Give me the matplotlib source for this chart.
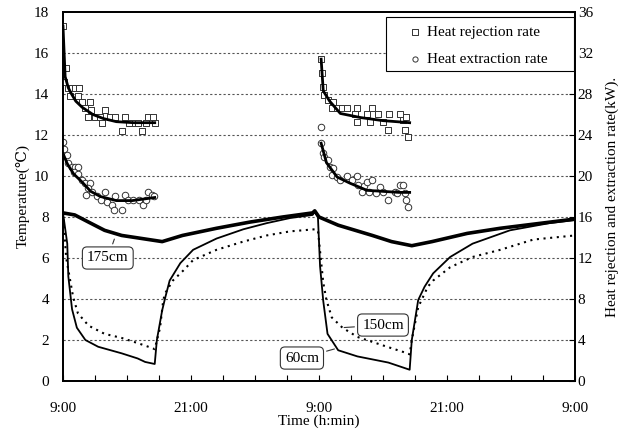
import matplotlib
matplotlib.use("Agg")
import matplotlib.pyplot as plt
from matplotlib.patches import Rectangle
import numpy as np

plt.rcParams['font.family'] = ['Liberation Serif', 'DejaVu Serif']
plt.rcParams['font.size'] = 11

# ---------------- data ----------------
# time in hours since 9:00 of day 1
x_ticks = [0, 12, 24, 36, 48]
x_ticklabels = ["9:00", "21:00", "9:00", "21:00", "9:00"]

# ground temperature (left axis, degC)
t_60 = [0, 0.4, 0.5, 0.85, 1.3, 2.1, 3.3, 5.5, 7.0, 7.7, 8.6, 8.8, 9.3, 9.6, 10.0, 11.0, 12.2,
        14.4, 16.9, 19.1, 21.3, 23.4, 23.6, 23.9, 24.1, 24.4, 24.8, 25.8, 27.6, 30.5, 32.5,
        32.7, 33.3, 33.9, 34.7, 36.3, 38.4, 41.9, 45.6, 48.0]
T_60 = [8.2, 6.7, 5.1, 3.5, 2.6, 2.0, 1.67, 1.35, 1.1, 0.93, 0.83, 2.0, 3.45, 4.1, 4.9, 5.75, 6.4,
        6.95, 7.4, 7.7, 7.95, 8.1, 8.25, 8.0, 5.6, 3.9, 2.3, 1.5, 1.2, 0.9, 0.55,
        2.0, 3.95, 4.6, 5.25, 6.05, 6.7, 7.35, 7.7, 7.85]

t_150 = [0, 0.3, 0.95, 1.4, 2.4, 3.9, 5.5, 7.0, 8.4, 8.6, 9.1, 9.4, 9.6, 10.3, 11.3, 12.2, 14.4,
         16.9, 19.1, 21.3, 23.6, 23.9, 24.4, 24.7, 25.2, 26.2, 27.6, 30.5, 32.3, 32.5, 32.7,
         33.3, 34.2, 34.7, 36.3, 38.4, 41.0, 44.1, 48.0]
T_150 = [8.2, 6.0, 4.1, 3.3, 2.7, 2.3, 2.1, 1.85, 1.6, 1.55, 2.6, 3.95, 4.3, 4.9, 5.4, 5.9, 6.4,
         6.8, 7.1, 7.3, 7.4, 7.35, 4.8, 3.95, 3.1, 2.6, 2.15, 1.65, 1.35, 1.3, 2.0,
         3.6, 4.6, 4.9, 5.55, 6.05, 6.4, 6.9, 7.1]

t_175 = [0, 1.1, 2.4, 3.9, 5.5, 7.4, 9.3, 11.2, 14.4, 17.5, 20.6, 23.4, 23.6, 24.0, 25.8,
         29.0, 30.8, 32.7, 34.6, 37.9, 41.0, 44.1, 48.0]
T_175 = [8.2, 8.1, 7.75, 7.35, 7.1, 6.95, 6.8, 7.1, 7.45, 7.75, 8.0, 8.2, 8.3, 8.0, 7.6,
         7.1, 6.8, 6.6, 6.8, 7.2, 7.45, 7.65, 7.9]

# heat rejection rate (right axis, kW) - measured points
rej_t = [0, 0.3, 0.1, 0.5, 0.8, 1.1, 1.5, 0.7, 1.4, 1.8, 2.5, 2.1, 2.6, 2.3, 3.0, 3.5, 3.9, 4.4,
         4.9, 3.7, 5.5, 5.8, 6.6, 7.4, 8.0, 8.4, 8.6, 6.2, 7.0, 7.8,
         24.2, 24.3, 24.4, 24.5, 24.8, 25.3, 25.2, 25.7, 26.2, 26.6, 27.6, 29.0, 27.4, 28.5,
         29.5, 30.6, 31.6, 27.6, 30.5, 32.1, 32.3, 31.9, 28.8, 30.0, 32.2]
rej_q = [34.6, 30.5, 29.2, 28.6, 28.6, 28.6, 28.6, 27.8, 27.8, 27.2, 27.2, 26.6, 26.4, 25.8,
         25.8, 25.8, 26.4, 25.8, 25.8, 25.2, 24.4, 25.8, 25.2, 24.4, 25.8, 25.8, 25.2, 25.2,
         25.2, 25.2,
         31.4, 30.0, 28.7, 27.9, 27.4, 27.2, 26.6, 26.6, 26.6, 26.6, 26.6, 26.6, 26.0, 26.0,
         26.0, 26.0, 26.0, 25.3, 24.5, 24.5, 23.8, 25.5, 25.3, 25.3, 25.8]

# heat extraction rate (right axis, kW) - measured points
ext_t = [0, 0.05, 0.4, 0.5, 0.8, 1.1, 1.4, 1.0, 1.4, 1.8, 2.1, 2.5, 2.3, 2.7, 2.2, 3.2, 3.9,
         3.6, 4.1, 4.6, 4.9, 4.8, 5.5, 5.8, 6.1, 6.6, 7.1, 7.5, 8.0, 8.3, 8.5, 7.8,
         24.2, 24.2, 24.4, 24.5, 24.8, 25.0, 25.3, 25.2, 25.7, 26.0, 26.6, 27.1, 27.6, 27.7,
         28.2, 28.5, 29.0, 29.7, 28.0, 28.7, 29.3, 30.0, 30.5, 31.1, 31.6, 31.9, 32.1, 32.2,
         32.3, 31.3]
ext_q = [23.3, 22.6, 22.0, 21.3, 20.9, 20.9, 20.9, 20.4, 20.2, 19.6, 19.3, 19.3, 18.8, 18.4,
         18.1, 18.0, 18.4, 17.7, 17.5, 17.2, 18.0, 16.7, 16.7, 18.1, 17.7, 17.7, 17.7, 17.2,
         18.4, 18.1, 18.0, 17.7,
         24.8, 23.2, 22.2, 21.9, 21.6, 20.9, 20.8, 20.1, 19.9, 19.6, 20.0, 19.6, 20.0, 19.1,
         19.0, 19.4, 19.6, 18.9, 18.4, 18.4, 18.3, 18.4, 17.7, 18.4, 19.1, 19.1, 18.3, 17.7,
         17.0, 18.3]

# fitted trend lines (kW)
rej_fit1_t = [0, 0.2, 0.5, 0.8, 1.2, 1.8, 2.8, 3.8, 5.0, 6.6, 8.6]
rej_fit1_q = [34.6, 29.7, 28.6, 28.0, 27.3, 26.7, 26.0, 25.6, 25.3, 25.2, 25.2]
ext_fit1_t = [0, 0.4, 1.0, 1.8, 2.6, 3.5, 5.0, 6.5, 8.6]
ext_fit1_q = [22.2, 21.2, 20.2, 19.4, 18.5, 18.0, 17.6, 17.6, 17.9]
rej_fit2_t = [24.2, 24.4, 25.0, 26.0, 27.9, 30.0, 32.5]
rej_fit2_q = [31.4, 28.3, 27.3, 26.1, 25.7, 25.4, 25.2]
ext_fit2_t = [24.2, 24.7, 25.7, 26.9, 28.5, 31.5, 32.5]
ext_fit2_q = [23.2, 21.3, 19.9, 19.3, 18.6, 18.4, 18.4]

# ---------------- plot ----------------
fig = plt.figure(figsize=(6.35, 4.34), dpi=100)
ax = fig.add_axes([0.0992, 0.1221, 0.8063, 0.8503])
ax2 = ax.twinx()

ax.set_xlim(0, 48)
ax.set_ylim(0, 18)
ax2.set_ylim(0, 36)

for yv in range(2, 18, 2):
    ax.axhline(yv, color='#555555', lw=0.8, ls=(0, (2, 2)), zorder=0)

ax.plot(t_175, T_175, color='black', lw=2.6, zorder=3)
ax.plot(t_60, T_60, color='black', lw=1.3, zorder=3)
ax.plot(t_150, T_150, color='black', lw=1.5, ls=(0, (1, 2.2)), zorder=3)

ax2.scatter(rej_t, rej_q, marker='s', s=22, facecolors='white', edgecolors='#333333',
            linewidths=0.7, zorder=2, label='Heat rejection rate')
ax2.scatter(ext_t, ext_q, marker='o', s=22, facecolors='white', edgecolors='#333333',
            linewidths=0.7, zorder=2, label='Heat extraction rate')
for ft, fq in [(rej_fit1_t, rej_fit1_q), (ext_fit1_t, ext_fit1_q),
               (rej_fit2_t, rej_fit2_q), (ext_fit2_t, ext_fit2_q)]:
    ax2.plot(ft, fq, color='black', lw=2.0, zorder=4)

ax.set_xticks(np.arange(0, 49, 3))
ax.set_xticklabels([x_ticklabels[x_ticks.index(v)] if v in x_ticks else '' for v in range(0, 49, 3)])
ax.set_yticks(range(0, 19, 2))
ax2.set_yticks(range(0, 37, 4))
ax.tick_params(axis='x', direction='in', length=4, pad=15)
ax.tick_params(axis='y', direction='in', length=0, pad=10)
ax2.tick_params(axis='y', direction='in', length=4, pad=2)

for a in (ax, ax2):
    for s in a.spines.values():
        s.set_linewidth(1.3)

ax.set_xlabel('Time (h:min)', labelpad=0)
ax.set_ylabel('Temperature(\u2103)', labelpad=3)
ax2.set_ylabel('Heat rejection and extraction rate(kW).', labelpad=9)

# legend: frame drawn as a box, entries inside
ax2.add_patch(Rectangle((0.631, 0.840), 0.367, 0.146, transform=ax2.transAxes,
                        facecolor='white', edgecolor='black', lw=0.8, zorder=5))
leg = ax2.legend(loc='center left', bbox_to_anchor=(0.673, 0.908), frameon=False,
                 handletextpad=0.3, markerscale=0.8, borderpad=0, borderaxespad=0,
                 labelspacing=0.85, handlelength=1.0, fontsize=11)
leg.set_zorder(6)

bbox = dict(boxstyle='round,pad=0.3', fc='white', ec='#333333', lw=0.8)
arrow = dict(arrowstyle='-', color='#333333', lw=0.8)
ax.annotate('175cm', xy=(4.9, 7.05), xytext=(4.2, 6.0), ha='center', va='center',
            bbox=bbox, arrowprops=arrow, fontsize=11)
ax.annotate('150cm', xy=(26.1, 2.6), xytext=(30.0, 2.73), ha='center', va='center',
            bbox=bbox, arrowprops=arrow, fontsize=11)
ax.annotate('60cm', xy=(25.7, 1.6), xytext=(22.4, 1.12), ha='center', va='center',
            bbox=bbox, arrowprops=arrow, fontsize=11)

fig.savefig('out.png', dpi=100)
